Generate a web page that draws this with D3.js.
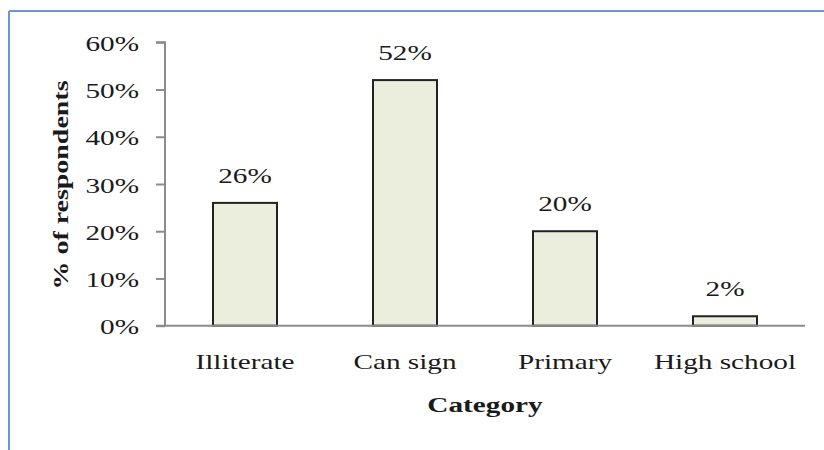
<!DOCTYPE html>
<html>
<head>
<meta charset="utf-8">
<script src="https://cdn.jsdelivr.net/npm/d3@7"></script>
<style>
  html, body { margin: 0; padding: 0; background: #fff; }
  svg { display: block; }
  text { font-family: "Liberation Serif", "Times New Roman", serif; fill: #1a1a1a; }
</style>
</head>
<body>
<svg id="chart" width="824" height="450"></svg>
<script>
// Education level of respondents
const categories = ["Illiterate", "Can sign", "Primary", "High school"];
const shares = [26, 52, 20, 2];
const yTicks = [0, 10, 20, 30, 40, 50, 60];
const xTitle = "Category";
const yTitle = "% of respondents";

const W = 824, H = 450;
const plot = { left: 165, right: 805, top: 42.3, bottom: 325.7 };
const sx = 1.33; // horizontal text stretch
const fs = 22;

const svg = d3.select("#chart");

// frame lines
svg.append("line").attr("x1", 9).attr("x2", W).attr("y1", 11).attr("y2", 11)
  .attr("stroke", "#6f97cf").attr("stroke-width", 2);
svg.append("line").attr("x1", 9).attr("x2", 9).attr("y1", 11).attr("y2", H)
  .attr("stroke", "#6f97cf").attr("stroke-width", 2);

const x = d3.scaleBand().domain(categories).range([plot.left, plot.right]).paddingInner(0.6).paddingOuter(0.3);
const y = d3.scaleLinear().domain([0, 60]).range([plot.bottom, plot.top]);

function stretchedText(g, tx, ty, str, anchor, size, weight) {
  return g.append("text")
    .attr("transform", `translate(${tx},${ty}) scale(${sx},1)`)
    .attr("text-anchor", anchor)
    .attr("font-size", size)
    .attr("font-weight", weight || "normal")
    .text(str);
}

// y axis
const yAxis = d3.axisLeft(y).tickValues(yTicks).tickSize(9).tickFormat("");
const gy = svg.append("g").attr("transform", `translate(${plot.left},0)`).call(yAxis);
gy.select(".domain").attr("stroke", "#8c8c8c").attr("stroke-width", 2).attr("d", `M-9,${plot.top}H0V${plot.bottom}`);
gy.selectAll(".tick line").attr("stroke", "#8c8c8c").attr("stroke-width", 2);

const labels = svg.append("g");
yTicks.forEach(t => stretchedText(labels, 139, y(t) + 8.5, t + "%", "end", fs));

// bars
svg.append("g").selectAll("rect").data(categories).join("rect")
  .attr("x", d => x(d))
  .attr("width", x.bandwidth())
  .attr("y", (d, i) => y(shares[i]))
  .attr("height", (d, i) => y(0) - y(shares[i]))
  .attr("fill", "#ebeedc")
  .attr("stroke", "#222")
  .attr("stroke-width", 2);

// x axis baseline
svg.append("line").attr("x1", plot.left - 9).attr("x2", plot.right)
  .attr("y1", plot.bottom).attr("y2", plot.bottom)
  .attr("stroke", "#8c8c8c").attr("stroke-width", 2);

// value labels
categories.forEach((c, i) =>
  stretchedText(labels, x(c) + x.bandwidth() / 2, y(shares[i]) - 20, shares[i] + "%", "middle", fs));

// category labels
categories.forEach(c => stretchedText(labels, x(c) + x.bandwidth() / 2, 369, c, "middle", fs));

// axis titles
stretchedText(labels, (plot.left + plot.right) / 2, 412, xTitle, "middle", fs, "bold");
svg.append("text")
  .attr("transform", `translate(68,185) rotate(-90) scale(1.3,1)`)
  .attr("text-anchor", "middle")
  .attr("font-size", 21.5)
  .attr("font-weight", "bold")
  .text(yTitle);
</script>
</body>
</html>
